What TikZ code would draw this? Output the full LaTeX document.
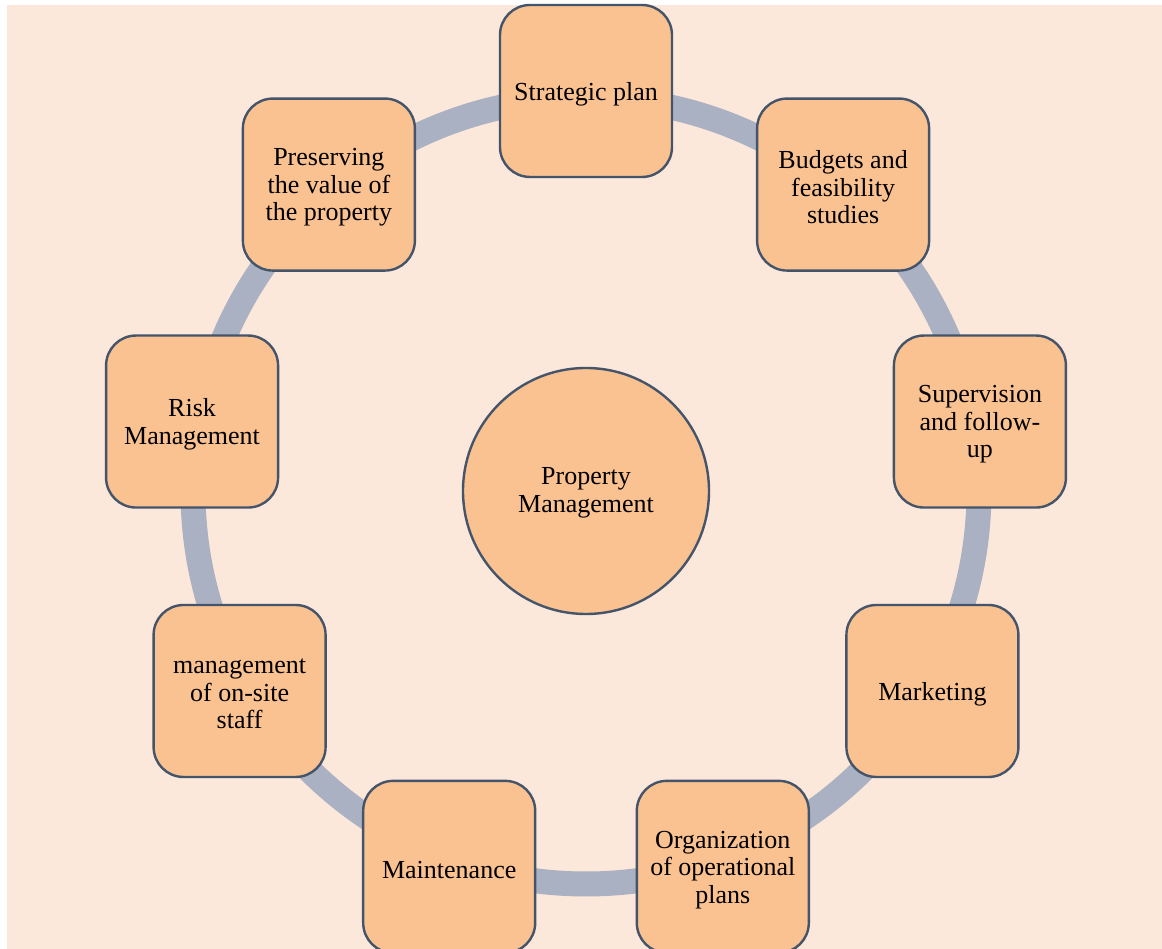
\documentclass[tikz,border=0pt]{standalone}
\usepackage{fontspec}
\setmainfont{Liberation Serif}
\usetikzlibrary{calc}
\definecolor{bgc}{HTML}{FCE8DA}
\definecolor{boxfill}{HTML}{F9C290}
\definecolor{boxline}{HTML}{44546A}
\definecolor{ringc}{HTML}{AAB1C2}
\begin{document}
\begin{tikzpicture}[x=1pt,y=1pt,
  stepbox/.style={draw=boxline, line width=2.4pt, fill=boxfill, rounded corners=30pt,
    minimum width=172pt, minimum height=172pt, inner sep=4pt, align=center,
    font=\fontsize{26}{27.5}\selectfont, text height=0pt, text depth=0pt},
  txt/.style={align=center, inner sep=0pt, font=\fontsize{26}{27.5}\selectfont},
  hub/.style={circle, draw=boxline, line width=2.4pt, fill=boxfill, minimum size=246pt},
  ring/.style={draw=ringc, line width=25pt}]
\useasboundingbox (0,0) rectangle (1162,949);
\fill[white] (0,0) rectangle (1162,949);
\fill[bgc] (7,0) rectangle (1162,944);
\coordinate (o) at (586,458);
\draw[ring] (o) circle (393);
\node[hub] (c) at (o) {};
\node[txt] (tc) at ([yshift=-2pt]c.center) {Property\\Management};
\node[stepbox] (b1) at ($(o)+(90:400)$) {};
\node[stepbox] (b2) at ($(o)+(50:400)$) {};
\node[stepbox] (b3) at ($(o)+(10:400)$) {};
\node[stepbox] (b4) at ($(o)+(-30:400)$) {};
\node[stepbox] (b5) at ($(o)+(-70:400)$) {};
\node[stepbox] (b6) at ($(o)+(-110:400)$) {};
\node[stepbox] (b7) at ($(o)+(-150:400)$) {};
\node[stepbox] (b8) at ($(o)+(170:400)$) {};
\node[stepbox] (b9) at ($(o)+(130:400)$) {};
\node[txt] (t1) at ([yshift=-3pt]b1.center) {Strategic plan};
\node[txt] (t2) at ([yshift=-3pt]b2.center) {Budgets and\\feasibility\\studies};
\node[txt] (t3) at ([yshift=-3pt]b3.center) {Supervision\\and follow-\\up};
\node[txt] (t4) at ([yshift=-3pt]b4.center) {Marketing};
\node[txt] (t5) at ([yshift=-3pt]b5.center) {Organization\\of operational\\plans};
\node[txt] (t6) at ([yshift=-3pt]b6.center) {Maintenance};
\node[txt] (t7) at ([yshift=-3pt]b7.center) {management\\of on-site\\staff};
\node[txt] (t8) at ([yshift=-3pt]b8.center) {Risk\\Management};
\node[txt] (t9) at ([yshift=-3pt]b9.center) {Preserving\\the value of\\the property};
\end{tikzpicture}
\end{document}
